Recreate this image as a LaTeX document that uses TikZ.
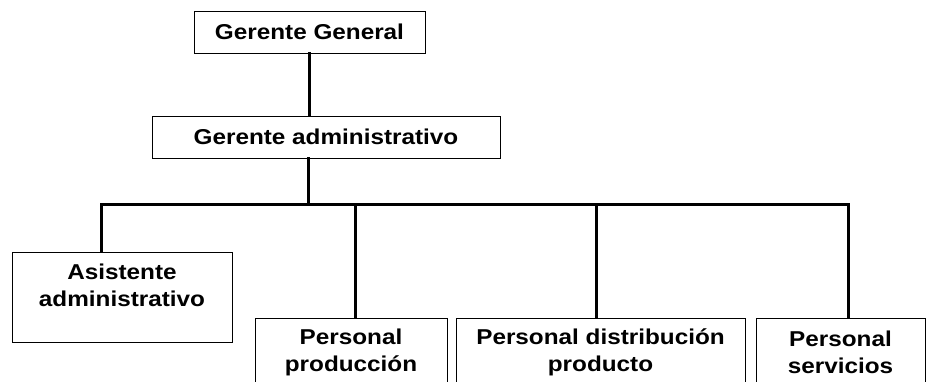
\documentclass[tikz,border=0pt]{standalone}
\usepackage{fontspec}
\setmainfont{Liberation Sans}[FakeStretch=1.13]
\usetikzlibrary{positioning}

\begin{document}
\begin{tikzpicture}
  [x=1pt,y=-1pt,every node/.style={font=\bfseries\fontsize{21.5}{27}\selectfont,align=center},
   unit/.style={draw,line width=1pt,inner sep=0pt,minimum height=42},
   staff/.style={draw,line width=1pt,inner sep=0pt,minimum height=90},
   link/.style={line width=3pt,line cap=rect}]
  \useasboundingbox (0,0) rectangle (936,381);
  \clip (0,0) rectangle (936,381);
  \node[unit,minimum width=231] (gg) at (309.5,32) {Gerente General};
  \node[unit,minimum width=348] (ga) at (326,137) {Gerente administrativo};
  \node[staff,minimum width=220,label={[yshift=11.5pt]center:Asistente\\administrativo}] (asis) at (122,297) {};
  \node[staff,minimum width=192,label={[yshift=10.5pt]center:Personal\\producción}] (prod) at (351,363) {};
  \node[staff,minimum width=289,label={[yshift=10.5pt]center:Personal distribución\\producto}] (dist) at (600.5,363) {};
  \node[staff,minimum width=169,label={[yshift=10.5pt]center:Personal\\servicios}] (serv) at (840.5,363) {};
  \coordinate (hub) at (308,204);
  \coordinate (j1) at (101,204);
  \coordinate (j2) at (355,204);
  \coordinate (j3) at (596,204);
  \coordinate (j4) at (848,204);
  \draw[link] (gg.south) -- (gg.south |- ga.north);
  \draw[link] (ga.south -| hub) -- (hub);
  \draw[link] (j1) -- (j4);
  \foreach \j/\b in {j1/asis,j2/prod,j3/dist,j4/serv}
    \draw[link] (\j) -- (\j |- \b.north);

\end{tikzpicture}
\end{document}
